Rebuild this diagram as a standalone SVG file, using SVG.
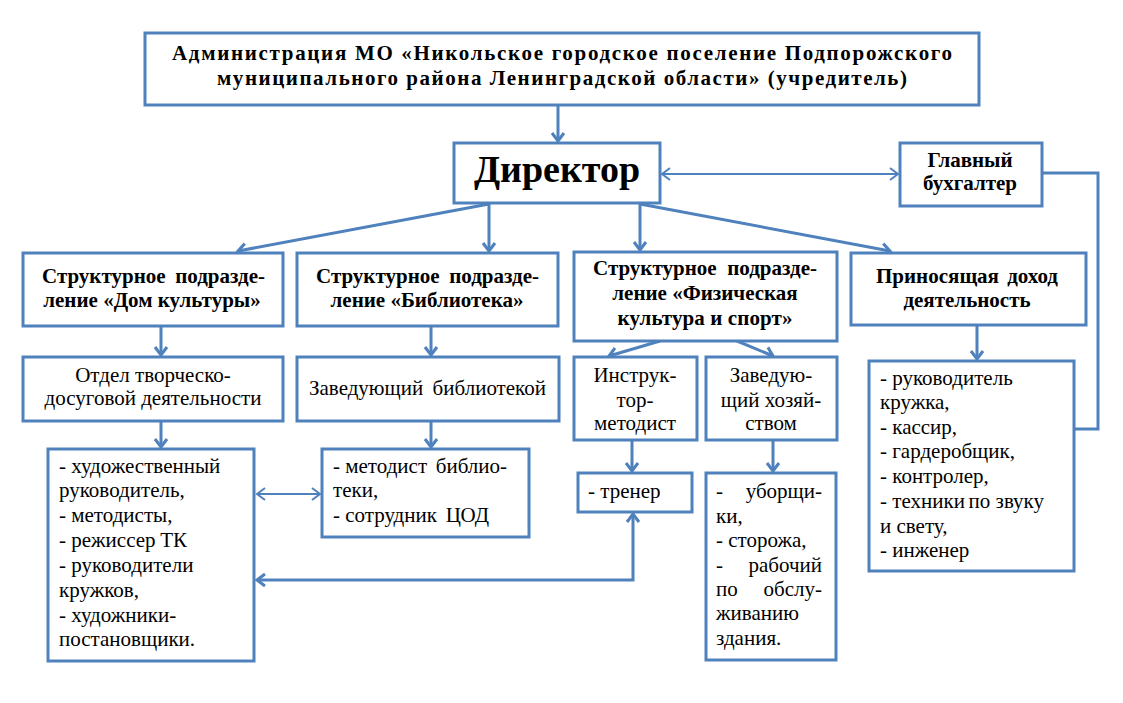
<svg xmlns="http://www.w3.org/2000/svg" width="1123" height="703" viewBox="0 0 1123 703">
<style>
.box{fill:#fff;stroke:#4F81BD;stroke-width:3}
.con{fill:none;stroke:#4F81BD;stroke-width:3}
.thin{fill:none;stroke:#4F81BD;stroke-width:2}
text{font-family:"Liberation Serif","Times New Roman",serif;fill:#000}
.b{font-weight:bold;font-size:21px}
.r{font-size:21px}
.c{text-anchor:middle}
.e{text-anchor:end}
</style>
<defs>
<marker id="a" markerUnits="userSpaceOnUse" markerWidth="20" markerHeight="20" refX="10" refY="8" orient="auto-start-reverse" overflow="visible">
<path d="M2,2 L10,8 L2,14" fill="none" stroke="#4F81BD" stroke-width="3"/>
</marker>
<marker id="t" markerUnits="userSpaceOnUse" markerWidth="20" markerHeight="20" refX="10" refY="8" orient="auto-start-reverse" overflow="visible">
<path d="M2,2 L10,8 L2,14" fill="none" stroke="#4F81BD" stroke-width="2"/>
</marker>
</defs>
<rect width="1123" height="703" fill="#fff"/>
<g id="connectors">
<line class="con" x1="558" y1="105" x2="558" y2="141" marker-end="url(#a)"/>
<line class="thin" x1="662" y1="174" x2="898" y2="174" marker-start="url(#t)" marker-end="url(#t)"/>
<polyline class="con" points="1042,173 1098,173 1098,429 998,429" marker-end="url(#a)"/>
<line class="con" x1="489" y1="204" x2="238" y2="251" marker-end="url(#a)"/>
<line class="con" x1="489" y1="204" x2="489" y2="251" marker-end="url(#a)"/>
<line class="con" x1="640" y1="204" x2="640" y2="250" marker-end="url(#a)"/>
<line class="con" x1="640" y1="204" x2="890" y2="251" marker-end="url(#a)"/>
<line class="con" x1="161" y1="326" x2="161" y2="355" marker-end="url(#a)"/>
<line class="con" x1="431" y1="326" x2="431" y2="355" marker-end="url(#a)"/>
<line class="con" x1="977" y1="325" x2="977" y2="359" marker-end="url(#a)"/>
<line class="con" x1="660" y1="341" x2="609" y2="356" marker-end="url(#a)"/>
<line class="con" x1="737" y1="341" x2="773" y2="356" marker-end="url(#a)"/>
<line class="con" x1="161" y1="421" x2="161" y2="447" marker-end="url(#a)"/>
<line class="con" x1="431" y1="421" x2="431" y2="447" marker-end="url(#a)"/>
<line class="con" x1="632" y1="440" x2="632" y2="471" marker-end="url(#a)"/>
<line class="con" x1="773" y1="440" x2="773" y2="471" marker-end="url(#a)"/>
<line class="thin" x1="257" y1="494" x2="320" y2="494" marker-start="url(#t)" marker-end="url(#t)"/>
<polyline class="con" points="257,580 633,580 633,514" marker-start="url(#a)" marker-end="url(#a)"/>
</g>
<g id="admin">
<rect class="box" x="145" y="33" width="834" height="72"/>
<text class="b c" x="562" y="60" textLength="780" lengthAdjust="spacing">Администрация МО «Никольское городское поселение Подпорожского</text>
<text class="b c" x="562" y="85" textLength="690" lengthAdjust="spacing">муниципального района Ленинградской области» (учредитель)</text>
</g>
<g id="director">
<rect class="box" x="454" y="143" width="206" height="60"/>
<text class="c" x="557" y="182" style="font-size:38px;font-weight:bold">Директор</text>
</g>
<g id="buh">
<rect class="box" x="900" y="143" width="142" height="63"/>
<text class="b c" x="970" y="167">Главный</text>
<text class="b c" x="970" y="190">бухгалтер</text>
</g>
<g id="dom">
<rect class="box" x="23" y="253" width="260" height="73"/>
<text class="b" x="42" y="283">Структурное</text>
<text class="b e" x="265" y="283">подразде-</text>
<text class="b c" x="152" y="307">ление «Дом культуры»</text>
</g>
<g id="bib">
<rect class="box" x="297" y="253" width="261" height="73"/>
<text class="b" x="316" y="283">Структурное</text>
<text class="b e" x="539" y="283">подразде-</text>
<text class="b c" x="427" y="307">ление «Библиотека»</text>
</g>
<g id="fiz">
<rect class="box" x="574" y="252" width="263" height="89"/>
<text class="b" x="593" y="275">Структурное</text>
<text class="b e" x="817" y="275">подразде-</text>
<text class="b c" x="705" y="300">ление «Физическая</text>
<text class="b c" x="705" y="325" textLength="175" lengthAdjust="spacing">культура и спорт»</text>
</g>
<g id="prinos">
<rect class="box" x="851" y="253" width="235" height="72"/>
<text class="b" x="876" y="283">Приносящая</text>
<text class="b e" x="1058" y="283">доход</text>
<text class="b c" x="967" y="307">деятельность</text>
</g>
<g id="otdel">
<rect class="box" x="23" y="357" width="260" height="64"/>
<text class="r c" x="153" y="382">Отдел творческо-</text>
<text class="r c" x="153" y="405">досуговой деятельности</text>
</g>
<g id="zavbib">
<rect class="box" x="297" y="357" width="262" height="64"/>
<text class="r" x="309" y="395">Заведующий</text>
<text class="r e" x="546" y="395">библиотекой</text>
</g>
<g id="instr">
<rect class="box" x="574" y="357" width="123" height="83"/>
<text class="r c" x="635" y="382">Инструк-</text>
<text class="r c" x="635" y="407">тор-</text>
<text class="r c" x="635" y="430">методист</text>
</g>
<g id="zavhoz">
<rect class="box" x="706" y="357" width="131" height="83"/>
<text class="r c" x="771" y="382">Заведую-</text>
<text class="r c" x="771" y="407">щий хозяй-</text>
<text class="r c" x="771" y="430">ством</text>
</g>
<g id="prinoslist">
<rect class="box" x="869" y="361" width="205" height="210"/>
<text class="r" x="880" y="385">- руководитель</text>
<text class="r" x="880" y="409">кружка,</text>
<text class="r" x="880" y="434">- кассир,</text>
<text class="r" x="880" y="458">- гардеробщик,</text>
<text class="r" x="880" y="483">- контролер,</text>
<text class="r" x="880" y="508">- техники</text>
<text class="r e" x="1044" y="508">по звуку</text>
<text class="r" x="880" y="533">и свету,</text>
<text class="r" x="880" y="557">- инженер</text>
</g>
<g id="domlist">
<rect class="box" x="48" y="449" width="206" height="212"/>
<text class="r" x="59" y="473">- художественный</text>
<text class="r" x="59" y="497">руководитель,</text>
<text class="r" x="59" y="522">- методисты,</text>
<text class="r" x="59" y="547">- режиссер</text>
<text class="r e" x="187" y="547">ТК</text>
<text class="r" x="59" y="572">- руководители</text>
<text class="r" x="59" y="597">кружков,</text>
<text class="r" x="59" y="622">- художники-</text>
<text class="r" x="59" y="646">постановщики.</text>
</g>
<g id="biblist">
<rect class="box" x="322" y="449" width="207" height="88"/>
<text class="r" x="333" y="473">- методист</text>
<text class="r e" x="507" y="473">библио-</text>
<text class="r" x="333" y="497">теки,</text>
<text class="r" x="333" y="522">- сотрудник</text>
<text class="r e" x="489" y="522">ЦОД</text>
</g>
<g id="trener">
<rect class="box" x="578" y="473" width="114" height="39"/>
<text class="r" x="588" y="498">- тренер</text>
</g>
<g id="hozlist">
<rect class="box" x="706" y="473" width="130" height="187"/>
<text class="r" x="716" y="498">-</text>
<text class="r e" x="822" y="498">уборщи-</text>
<text class="r" x="716" y="523">ки,</text>
<text class="r" x="716" y="547">- сторожа,</text>
<text class="r" x="716" y="572">-</text>
<text class="r e" x="822" y="572">рабочий</text>
<text class="r" x="716" y="596">по</text>
<text class="r e" x="822" y="596">обслу-</text>
<text class="r" x="716" y="620">живанию</text>
<text class="r" x="716" y="645">здания.</text>
</g>
</svg>
